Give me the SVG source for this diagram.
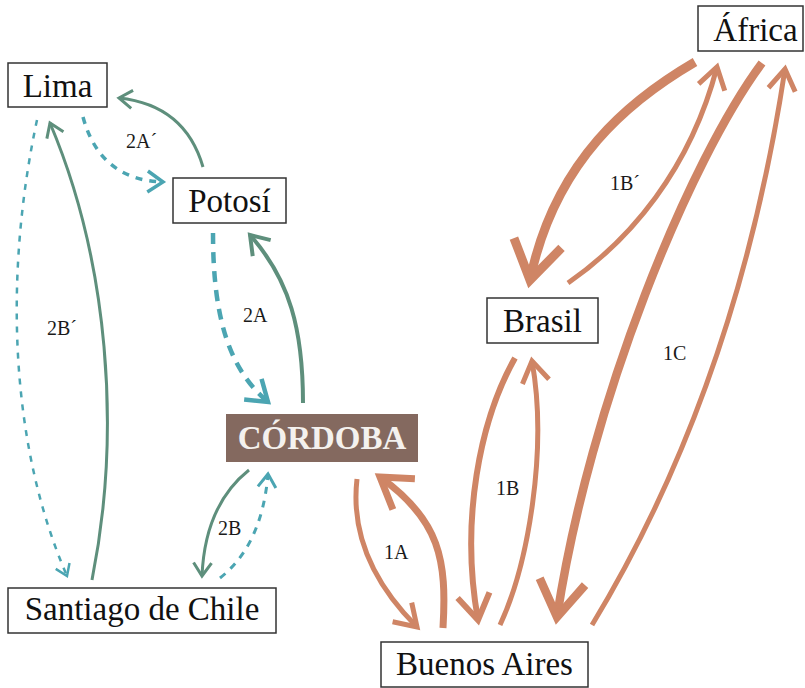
<svg xmlns="http://www.w3.org/2000/svg" width="805" height="688" viewBox="0 0 805 688">
<style>
.box{fill:#fff;stroke:#333;stroke-width:1.5}
text{font-family:'Liberation Serif',Tinos,'DejaVu Serif',serif}
.nt{font-size:33px;fill:#111;text-anchor:middle}
.cb{font-size:33px;font-weight:bold;fill:#f4f1ee;text-anchor:middle}
.lb{font-size:20px;fill:#1a1a1a}
.g{fill:none;stroke:#5E8F7C;marker-end:url(#mG)}
.t{fill:none;stroke:#4BA5B2;marker-end:url(#mT)}
.o{fill:none;stroke:#CF8565;marker-end:url(#mO)}
</style>
<defs>
<marker id="mG" markerUnits="strokeWidth" orient="auto" overflow="visible" markerWidth="1" markerHeight="1"><path d="M-4.4,-3 L0,0 L-4.4,3" fill="none" stroke="#5E8F7C" stroke-width="1"/></marker>
<marker id="mT" markerUnits="strokeWidth" orient="auto" overflow="visible" markerWidth="1" markerHeight="1"><path d="M-4.4,-3 L0,0 L-4.4,3" fill="none" stroke="#4BA5B2" stroke-width="1" stroke-dasharray="none"/></marker>
<marker id="mO" markerUnits="strokeWidth" orient="auto" overflow="visible" markerWidth="1" markerHeight="1"><path d="M-4.2,-2.7 L0,0 L-4.2,2.7" fill="none" stroke="#CF8565" stroke-width="1"/></marker>
</defs>
<g id="connectors">
<path class="g" stroke-width="3" d="M203,167 Q185,105 119,98"/>
<path class="g" stroke-width="3" d="M92,580 C122,430 108,260 50,123"/>
<path class="g" stroke-width="4" d="M303,403 C303,330 290,280 250,235"/>
<path class="g" stroke-width="3" d="M249,470 Q205,505 202,576"/>
<path class="t" stroke-width="3.5" stroke-dasharray="7 7" d="M83,117 Q100,180 163,182"/>
<path class="t" stroke-width="2.5" stroke-dasharray="6 7" d="M37,120 C5,270 8,440 67,576"/>
<path class="t" stroke-width="4.5" stroke-dasharray="11 8" d="M213,233 C213,320 230,370 268,402"/>
<path class="t" stroke-width="3" stroke-dasharray="7 7" d="M220,578 Q262,545 268,474"/>
<path class="o" stroke-width="5" d="M357,479 C350,540 380,590 417,627"/>
<path class="o" stroke-width="7" d="M443,628 C447,560 440,520 380,477"/>
<path class="o" stroke-width="6" d="M515,358 C480,420 460,520 478,620"/>
<path class="o" stroke-width="5" d="M500,625 C528,565 548,450 532,361"/>
<path class="o" stroke-width="8.5" d="M762,63 C690,160 590,400 557,617"/>
<path class="o" stroke-width="5" d="M592,625 C680,480 750,300 785,69"/>
<path class="o" stroke-width="9" d="M695,62 C630,100 555,160 530,280"/>
<path class="o" stroke-width="5" d="M568,283 C630,240 690,170 717,67"/>
</g>
<g id="labels">
<text class="lb" x="126" y="148">2A´</text>
<text class="lb" x="47" y="335">2B´</text>
<text class="lb" x="243" y="322">2A</text>
<text class="lb" x="218" y="535">2B</text>
<text class="lb" x="384" y="559">1A</text>
<text class="lb" x="496" y="495">1B</text>
<text class="lb" x="663" y="360">1C</text>
<text class="lb" x="610" y="190">1B´</text>
</g>
<g id="lima"><rect class="box" x="8" y="63" width="99" height="44"/><text class="nt" x="57.5" y="97">Lima</text></g>
<g id="potosi"><rect class="box" x="173" y="178" width="113" height="45"/><text class="nt" x="229.5" y="212">Potosí</text></g>
<g id="cordoba"><rect x="226" y="414" width="192" height="48" fill="#84695F"/><text class="cb" x="322" y="449">CÓRDOBA</text></g>
<g id="santiago"><rect class="box" x="8" y="588" width="268" height="45"/><text class="nt" x="142" y="620">Santiago de Chile</text></g>
<g id="buenosaires"><rect class="box" x="381" y="642" width="207" height="45"/><text class="nt" x="484.5" y="675">Buenos Aires</text></g>
<g id="brasil"><rect class="box" x="487" y="298" width="111" height="45"/><text class="nt" x="542.5" y="332">Brasil</text></g>
<g id="africa"><rect class="box" x="698" y="6" width="105" height="45"/><text class="nt" x="755.5" y="41">África</text></g>
</svg>
